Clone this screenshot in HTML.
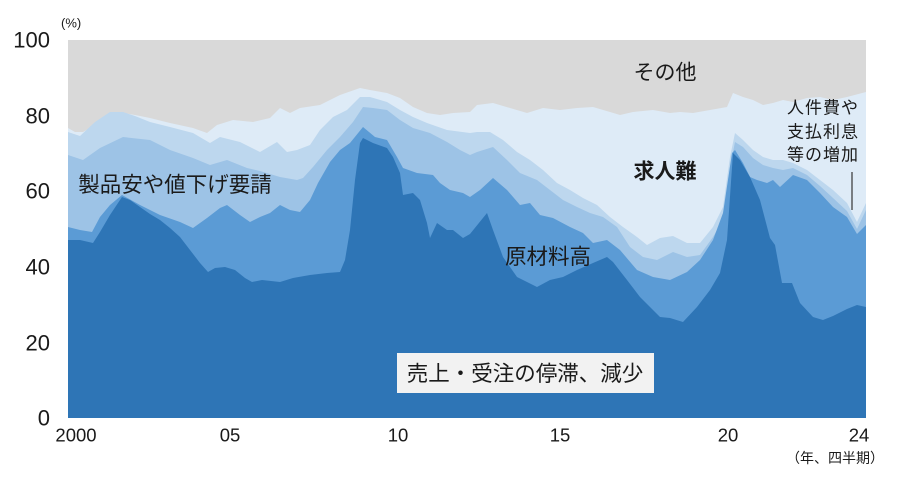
<!DOCTYPE html>
<html><head><meta charset="utf-8"><style>
html,body{margin:0;padding:0;background:#fff;}
svg{display:block;}
text{font-family:"Liberation Sans","Noto Sans CJK JP",sans-serif;fill:#1a1a1a;}
.jp{font-family:"Liberation Sans","Noto Sans CJK JP",sans-serif;}
</style></head><body>
<svg width="900" height="484" viewBox="0 0 900 484" xmlns="http://www.w3.org/2000/svg">
<rect x="0" y="0" width="900" height="484" fill="#ffffff"/>
<!-- plot background (その他) -->
<rect x="68" y="40" width="798" height="378" fill="#d9d9d9"/>
<!-- 求人難 (B5) -->
<polygon fill="#deebf7" points="68,128 75,132 83,132 95,125 110,117 123,113 135,115 150,118 170,123 193,128 207,133 217,125 233,120 253,122 270,118 280,108 290,113 300,108 320,105 340,95 360,88 370,90 387,93 400,98 413,107 427,113 440,115 453,113 470,112 477,105 493,103 510,108 527,113 543,108 560,110 577,108 593,107 610,112 620,115 633,112 653,110 670,113 680,112 693,113 710,110 727,107 733,93 743,97 753,100 763,105 773,103 783,100 793,102 807,98 820,97 833,100 847,97 866,92 866,418 68,418"/>
<!-- 人件費や支払利息等の増加 (B4) -->
<polygon fill="#bdd7ee" points="68,132 80,136 95,122 110,112 123,112 135,116 150,122 170,127 193,133 210,143 220,137 240,142 260,152 277,142 287,152 297,150 310,145 320,130 333,117 347,110 360,97 370,97 387,102 400,110 413,117 427,123 447,130 470,133 477,132 490,132 503,140 517,152 530,160 543,170 557,183 570,190 583,198 597,205 610,217 623,227 637,237 647,245 660,238 673,236 687,243 700,243 713,227 723,207 730,157 735,133 743,140 753,150 763,157 773,160 783,160 793,163 807,170 820,180 833,190 847,203 857,222 866,203 866,418 68,418"/>
<!-- 製品安や値下げ要請 (B3) -->
<polygon fill="#9dc3e6" points="68,155 83,160 100,148 123,137 150,140 170,150 193,158 210,165 227,160 247,168 260,171 280,177 297,180 303,178 313,167 327,150 340,137 353,122 363,107 373,108 387,110 400,120 413,128 430,133 447,142 460,150 470,155 477,152 493,147 507,160 520,173 537,180 550,190 563,200 577,207 590,213 603,217 617,227 630,247 643,257 657,260 673,252 687,257 700,255 713,237 723,220 730,167 735,142 743,147 753,158 763,165 773,168 783,170 793,168 807,175 820,186 833,198 847,211 857,229 866,210 866,418 68,418"/>
<!-- 原材料高 (B2) -->
<polygon fill="#5b9bd5" points="68,227 80,230 92,232 100,217 110,205 122,195 140,205 160,215 180,222 193,228 207,218 220,208 227,205 240,215 250,222 260,217 270,213 280,205 290,210 300,212 310,200 318,183 330,162 340,150 350,143 363,127 375,137 387,140 397,157 403,168 417,173 433,175 440,183 450,190 463,193 470,197 480,190 493,178 507,190 520,205 530,203 540,215 553,218 570,227 583,233 593,243 607,240 620,250 637,270 653,277 670,280 687,272 700,260 713,240 723,213 732,153 735,150 743,163 750,177 757,180 767,183 773,180 780,187 793,175 807,180 820,193 833,207 847,217 857,234 866,225 866,418 68,418"/>
<!-- 売上・受注の停滞、減少 (B1) -->
<polygon fill="#2e75b6" points="68,240 80,240 93,243 100,232 110,215 122,197 130,200 140,207 150,214 160,220 170,228 180,237 190,250 200,263 208,272 215,268 225,267 235,270 245,278 252,282 262,280 280,282 293,278 310,275 327,273 340,272 345,260 350,230 355,180 360,143 363,138 373,143 387,148 393,157 400,173 403,195 413,193 420,200 427,223 430,238 437,223 447,230 453,230 463,238 470,234 487,213 493,230 503,257 517,277 537,287 550,280 563,277 577,270 593,263 607,257 613,262 627,280 640,297 660,317 670,318 683,322 697,307 710,290 720,273 727,240 733,153 740,160 750,177 760,200 770,238 775,245 782,283 792,283 800,303 813,317 823,320 833,316 847,309 857,305 866,307 866,418 68,418"/>

<!-- Y axis labels -->
<g font-size="22" text-anchor="end" dominant-baseline="central">
<text x="50" y="40">100</text>
<text x="50" y="116">80</text>
<text x="50" y="191">60</text>
<text x="50" y="267">40</text>
<text x="50" y="343">20</text>
<text x="50" y="418">0</text>
</g>
<text x="61" y="23" font-size="13" dominant-baseline="central">(%)</text>

<!-- X axis labels -->
<g font-size="18.5" text-anchor="middle" dominant-baseline="central">
<text x="76" y="435">2000</text>
<text x="230" y="435">05</text>
<text x="398" y="435">10</text>
<text x="560" y="435">15</text>
<text x="728" y="435">20</text>
<text x="859" y="435">24</text>
</g>
<text x="835" y="458" font-size="14" text-anchor="middle" dominant-baseline="central">（年、四半期）</text>

<!-- Series labels -->
<text x="665" y="73" font-size="21" text-anchor="middle" dominant-baseline="central">その他</text>
<text x="175" y="185" font-size="21.5" text-anchor="middle" dominant-baseline="central">製品安や値下げ要請</text>
<text x="665" y="172" font-size="21" font-weight="bold" text-anchor="middle" dominant-baseline="central">求人難</text>
<text x="548" y="257" font-size="21.5" text-anchor="middle" dominant-baseline="central">原材料高</text>
<g font-size="17" text-anchor="middle" dominant-baseline="central" letter-spacing="1">
<text x="823" y="108">人件費や</text>
<text x="823" y="132">支払利息</text>
<text x="823" y="155">等の増加</text>
</g>
<line x1="852" y1="172" x2="852" y2="210" stroke="#333" stroke-width="1.2"/>

<!-- Box label -->
<rect x="397" y="353" width="257" height="40" fill="#f2f2f2"/>
<text x="525" y="374" font-size="21.5" text-anchor="middle" dominant-baseline="central">売上・受注の停滞、減少</text>
</svg>
</body></html>
